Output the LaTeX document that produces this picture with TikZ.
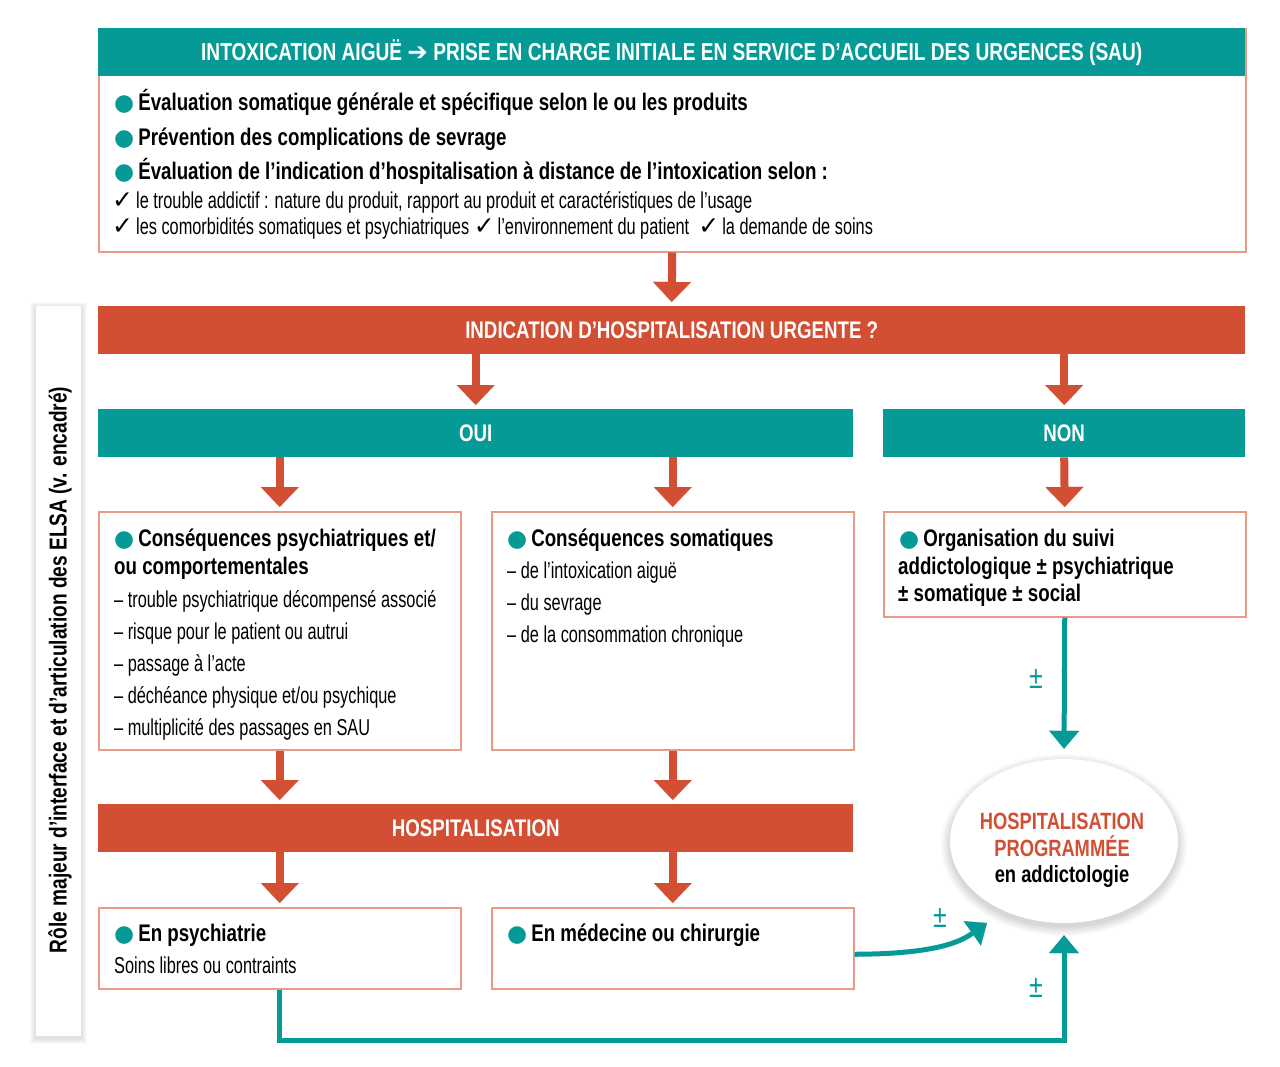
\documentclass[tikz,border=0pt]{standalone}
\usepackage{fontspec}
\setmainfont{Liberation Sans}[FakeStretch=0.78]
\newfontfamily\lightf{Liberation Sans}[FakeStretch=0.71]
\newfontfamily\symf{DejaVu Sans}
\usetikzlibrary{arrows.meta,shapes.geometric}
\definecolor{tealc}{HTML}{069A97}
\definecolor{redc}{HTML}{D34F33}
\definecolor{boxc}{HTML}{EC9A84}
\newcommand{\bul}{{\color{tealc}\symf\fontsize{23}{23}\selectfont ●}\hspace{4pt}}
\newcommand{\chk}{{\symf\fontsize{25}{25}\selectfont ✓}\hspace{3pt}}
\newcommand{\apos}{{\char39}}
\tikzset{
  box/.style={draw=boxc, line width=1.5pt, fill=white, inner sep=0pt, anchor=north west},
  band/.style={inner sep=0pt, anchor=north west, text=white, font=\bfseries\fontsize{24}{24}\selectfont, text height=17pt, text depth=0pt, minimum height=48pt},
  tb/.style={anchor=base west, inner sep=0pt, font=\bfseries\fontsize{24}{24}\selectfont},
  tl/.style={anchor=base west, inner sep=0pt, font=\lightf\fontsize{23}{23}\selectfont},
  oarrow/.style={draw=redc, line width=8pt, -{Triangle[width=38pt,length=20pt,line width=0.1pt]}, shorten >=4pt},
  tarrow/.style={draw=tealc, line width=5pt, -{Triangle[width=30pt,length=18pt,line width=0.1pt]}},
  pm/.style={text=tealc, inner sep=0pt, font=\fontsize{32}{32}\selectfont},
  etxt/.style={anchor=base, inner sep=0pt, font=\bfseries\fontsize{23.5}{23.5}\selectfont},
}
\begin{document}
\begin{tikzpicture}[x=1pt,y=-1pt]
\useasboundingbox[fill=white] (0,0) rectangle (1280,1066);

% side label
\foreach \i in {1,...,6} \fill[black,opacity=0.02] (36-\i,306-\i+2) rectangle (81+\i,1036+\i+2);
\node[fill=white, minimum width=45pt, minimum height=730pt, inner sep=0pt, anchor=north west] (side) at (36,306) {};
\node[rotate=90, inner sep=0pt, font=\bfseries\fontsize{24.5}{24.5}\selectfont] (sidetxt) at (60,670) {Rôle majeur d’interface et d’articulation des ELSA (v. encadré)};

% top box
\node[box, minimum width=1147pt, minimum height=223pt] (topbox) at (98,28) {};
\node[band, fill=tealc, minimum width=1147pt, font=\bfseries\fontsize{24.5}{24.5}\selectfont] (hdr) at (98,28) {INTOXICATION AIGUË {\symf ➔} PRISE EN CHARGE INITIALE EN SERVICE D\apos ACCUEIL DES URGENCES (SAU)};
\node[tb] (t1) at (114,110) {\bul Évaluation somatique générale et spécifique selon le ou les produits};
\node[tb] (t2) at (114,145) {\bul Prévention des complications de sevrage};
\node[tb] (t3) at (114,179) {\bul Évaluation de l’indication d’hospitalisation à distance de l’intoxication selon :};
\node[tl] (t4) at (112,208) {\chk le trouble addictif : nature du produit, rapport au produit et caractéristiques de l’usage};
\node[tl] (t5) at (112,234) {\chk les comorbidités somatiques et psychiatriques \chk l’environnement du patient \ \chk la demande de soins};

% bands
\node[band, fill=redc, minimum width=1147pt] (ind) at (98,306) {INDICATION D\apos HOSPITALISATION URGENTE ?};
\node[band, fill=tealc, minimum width=755pt] (oui) at (98,409) {OUI};
\node[band, fill=tealc, minimum width=362pt] (non) at (883,409) {NON};

% middle boxes
\node[box, minimum width=362pt, minimum height=238pt] (b1) at (98,511) {};
\node[box, minimum width=362pt, minimum height=238pt] (b2) at (491,511) {};
\node[box, minimum width=362pt, minimum height=105pt] (nb) at (883,511) {};

\node[tb] (b1a) at (114,546) {\bul Conséquences psychiatriques et/};
\node[tb] (b1b) at (114,574) {ou comportementales};
\node[tl] (b1c) at (114,607) {– trouble psychiatrique décompensé associé};
\node[tl] (b1d) at (114,639) {– risque pour le patient ou autrui};
\node[tl] (b1e) at (114,671) {– passage à l’acte};
\node[tl] (b1f) at (114,703) {– déchéance physique et/ou psychique};
\node[tl] (b1g) at (114,735) {– multiplicité des passages en SAU};

\node[tb] (b2a) at (507,546) {\bul Conséquences somatiques};
\node[tl] (b2b) at (507,578) {– de l’intoxication aiguë};
\node[tl] (b2c) at (507,610) {– du sevrage};
\node[tl] (b2d) at (507,642) {– de la consommation chronique};

\node[tb] (nba) at (899,546) {\bul Organisation du suivi};
\node[tb] (nbb) at (898,574) {addictologique ± psychiatrique};
\node[tb] (nbc) at (898,601) {± somatique ± social};

% hospitalisation band
\node[band, fill=redc, minimum width=755pt] (hosp) at (98,804) {HOSPITALISATION};

% lower boxes
\node[box, minimum width=362pt, minimum height=81pt] (lb1) at (98,907) {};
\node[box, minimum width=362pt, minimum height=81pt] (lb2) at (491,907) {};
\node[tb] (lb1a) at (114,941) {\bul En psychiatrie};
\node[tl] (lb1b) at (114,973) {Soins libres ou contraints};
\node[tb] (lb2a) at (507,941) {\bul En médecine ou chirurgie};

% ellipse
\foreach \i in {1,...,10} \fill[black,opacity=0.015] (1064,845) ellipse [x radius=113+\i, y radius=81+\i];
\node[ellipse, fill=white, minimum width=228pt, minimum height=164pt, inner sep=0pt] (ell) at (1064,841) {};
\node[etxt, text=redc] (e1) at (1062,829) {HOSPITALISATION};
\node[etxt, text=redc] (e2) at (1062,856) {PROGRAMMÉE};
\node[etxt] (e3) at (1062,882) {en addictologie};

% orange arrows
\draw[oarrow] (topbox.south) -- (ind.north);
\draw[oarrow] (ind.south -| oui.north) -- (oui.north);
\draw[oarrow] (ind.south -| non.north) -- (non.north);
\draw[oarrow] (oui.south -| b1.north) -- (b1.north);
\draw[oarrow] (oui.south -| b2.north) -- (b2.north);
\draw[oarrow] (non.south) -- (nb.north);
\draw[oarrow] (b1.south) -- (hosp.north -| b1.south);
\draw[oarrow] (b2.south) -- (hosp.north -| b2.south);
\draw[oarrow] (hosp.south -| lb1.north) -- (lb1.north);
\draw[oarrow] (hosp.south -| lb2.north) -- (lb2.north);

% teal arrows
\coordinate (ctip) at (987,923);
\draw[tarrow, shorten >=10pt] (nb.south) -- (ell.north);
\draw[tarrow, shorten >=12pt] (lb1.south) -- ++(0,51) -| (ell.south);
\draw[tarrow] ([yshift=-6pt]lb2.east) .. controls (935,954) and (960,942) .. (ctip);

\node[pm] (pm1) at (1036,679) {±};
\node[pm] (pm2) at (940,918) {±};
\node[pm] (pm3) at (1036,988) {±};
\end{tikzpicture}
\end{document}
